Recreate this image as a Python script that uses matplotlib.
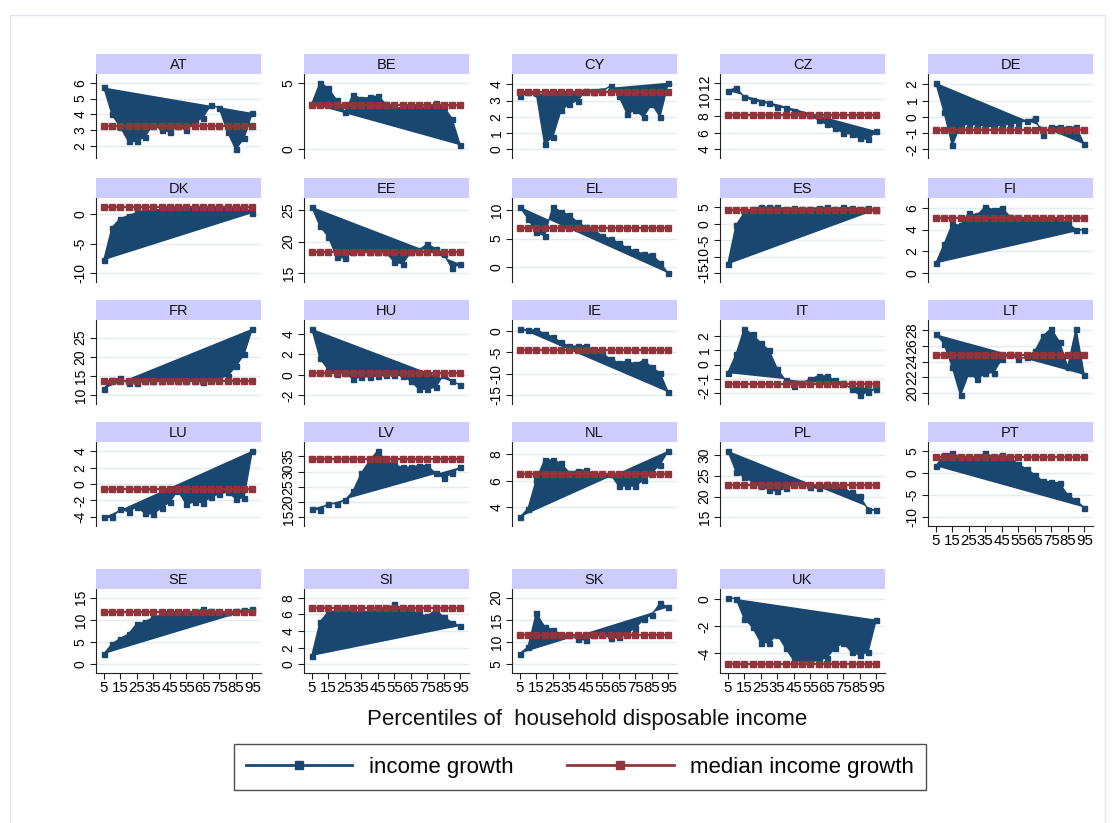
import matplotlib
matplotlib.use('Agg')
import matplotlib.pyplot as plt
from matplotlib.lines import Line2D
from matplotlib.patches import Rectangle

plt.rcParams['font.family'] = ['Liberation Sans', 'DejaVu Sans']

percentiles = [5, 10, 15, 20, 25, 30, 35, 40, 45, 50, 55, 60, 65, 70, 75, 80, 85, 90, 95]
x_ticks = [5, 15, 25, 35, 45, 55, 65, 75, 85, 95]

countries = ['AT', 'BE', 'CY', 'CZ', 'DE', 'DK', 'EE', 'EL', 'ES', 'FI', 'FR', 'HU',
             'IE', 'IT', 'LT', 'LU', 'LV', 'NL', 'PL', 'PT', 'SE', 'SI', 'SK', 'UK']

AT = [5.7, 4.0, 3.2, 2.3, 2.3, 2.6, 3.4, 3.0, 2.9, 3.3, 3.0, 3.5, 3.8, 4.6, 4.4, 2.9, 1.8, 2.5, 4.1]
BE = [3.4, 5.0, 4.6, 3.7, 2.8, 4.1, 3.8, 3.9, 4.0, 3.4, 3.0, 3.2, 3.2, 3.3, 3.0, 3.5, 3.2, 2.3, 0.3]
CY = [3.3, 3.55, 3.45, 0.35, 0.75, 2.4, 2.8, 3.0, 3.6, 3.55, 3.6, 3.9, 3.3, 2.2, 2.4, 2.0, 2.8, 2.0, 4.1]
CZ = [11.0, 11.4, 10.3, 9.9, 9.7, 9.5, 9.1, 9.0, 8.6, 8.2, 8.1, 7.5, 7.0, 6.5, 6.0, 5.8, 5.3, 5.2, 6.2]
DE = [2.1, 0.3, -1.75, -0.5, -0.45, -0.5, -0.55, -0.6, -0.5, -0.45, -0.35, -0.25, -0.1, -1.1, -0.6, -0.6, -0.7, -0.6, -1.7]
DK = [-7.8, -2.3, -0.8, -0.3, 0.2, 0.6, 0.5, 0.8, 0.9, 1.0, 1.0, 1.1, 1.0, 1.1, 1.1, 1.0, 1.0, 1.1, 0.1]
EE = [25.5, 22.4, 20.8, 17.6, 17.4, 18.4, 18.5, 18.4, 18.3, 18.3, 16.8, 16.5, 18.3, 18.7, 19.6, 18.9, 18.0, 15.8, 16.5]
EL = [10.6, 8.5, 6.1, 5.5, 10.6, 9.7, 9.1, 7.9, 7.0, 6.4, 5.5, 4.9, 4.3, 3.3, 2.8, 2.3, 2.2, 0.8, -1.1]
ES = [-12.3, -0.4, 3.3, 4.5, 5.2, 5.0, 5.1, 4.6, 4.8, 4.5, 4.6, 4.9, 5.0, 4.5, 5.0, 4.8, 4.5, 4.8, 4.2]
FI = [0.9, 2.65, 4.5, 4.4, 5.5, 5.3, 6.1, 5.8, 6.0, 5.2, 5.1, 5.0, 5.0, 5.0, 4.9, 5.0, 4.6, 4.0, 4.0]
FR = [11.7, 14.1, 14.4, 13.1, 13.3, 13.7, 13.8, 13.8, 13.9, 13.8, 13.7, 13.8, 13.5, 13.9, 14.5, 15.0, 17.5, 20.6, 27.3]
HU = [4.5, 1.6, 0.5, 0.1, 0.2, -0.4, -0.2, -0.2, -0.1, 0.0, 0.0, -0.1, -0.6, -1.4, -1.4, -1.2, 0.0, -0.6, -1.0]
IE = [0.55, 0.2, 0.3, -0.6, -1.4, -2.6, -3.6, -3.5, -3.4, -4.5, -5.3, -6.5, -7.4, -7.1, -7.7, -6.9, -8.4, -9.8, -14.3]
IT = [-0.6, 0.7, 2.5, 2.1, 1.5, 1.0, -0.3, -1.1, -1.5, -1.3, -1.0, -0.8, -0.8, -1.1, -1.3, -1.7, -2.15, -1.9, -1.7]
LT = [27.5, 26.3, 23.3, 19.7, 22.5, 21.8, 22.5, 22.6, 24.3, 25.0, 24.3, 24.6, 25.3, 27.3, 28.2, 26.5, 23.3, 28.2, 22.3]
LU = [-4.1, -4.1, -3.1, -3.4, -2.8, -3.6, -3.7, -2.9, -2.2, -0.8, -2.5, -2.2, -2.3, -1.6, -1.2, -1.0, -1.8, -1.7, 4.1]
LV = [17.8, 17.5, 19.5, 19.5, 20.6, 23.5, 29.5, 33.5, 36.9, 33.5, 32.3, 31.4, 31.5, 32.0, 32.0, 29.5, 27.9, 29.5, 31.5]
NL = [3.25, 3.9, 6.05, 7.55, 7.55, 7.3, 6.6, 6.75, 6.8, 6.5, 6.5, 6.5, 5.6, 5.6, 5.6, 6.05, 6.6, 7.2, 8.25]
PL = [31.0, 26.0, 24.6, 23.5, 22.5, 21.6, 21.3, 22.0, 23.0, 23.0, 22.2, 22.0, 23.0, 22.5, 22.0, 21.0, 20.2, 16.8, 16.7]
PT = [1.5, 4.0, 4.5, 3.5, 3.0, 3.5, 4.5, 3.5, 4.0, 3.5, 1.9, 0.9, -0.4, -1.9, -2.0, -2.3, -5.0, -6.2, -7.8]
SE = [2.3, 4.6, 5.8, 6.8, 9.1, 9.6, 10.5, 11.2, 11.6, 11.7, 11.8, 11.7, 12.4, 11.9, 11.8, 11.7, 11.9, 12.2, 12.4]
SI = [1.0, 5.1, 6.3, 6.4, 6.6, 6.4, 6.2, 6.4, 6.5, 6.6, 7.2, 6.7, 6.5, 6.0, 5.8, 6.5, 5.7, 5.0, 4.6]
SK = [7.4, 8.9, 16.5, 13.5, 12.8, 11.7, 11.7, 10.6, 10.5, 11.5, 11.8, 10.9, 11.2, 12.2, 13.1, 15.2, 16.1, 18.8, 17.8]
UK = [0.12, 0.05, -1.43, -2.05, -3.2, -3.2, -2.6, -3.6, -4.5, -4.6, -4.6, -4.5, -4.3, -3.6, -3.2, -3.9, -4.1, -3.9, -1.5]

income_growth = [AT, BE, CY, CZ, DE, DK, EE, EL, ES, FI, FR, HU,
                 IE, IT, LT, LU, LV, NL, PL, PT, SE, SI, SK, UK]

median_growth = [3.3, 3.35, 3.5, 8.1, -0.8, 1.2, 18.3, 6.8, 4.2, 5.05, 13.8, 0.2,
                 -4.4, -1.35, 24.9, -0.6, 34.2, 6.5, 22.8, 3.6, 11.8, 6.8, 11.7, -4.8]

y_ticks = [
    [2, 3, 4, 5, 6], [0, 5], [0, 1, 2, 3, 4], [4, 6, 8, 10, 12], [-2, -1, 0, 1, 2],
    [-10, -5, 0], [15, 20, 25], [0, 5, 10], [-15, -10, -5, 0, 5], [0, 2, 4, 6],
    [10, 15, 20, 25], [-2, 0, 2, 4], [-15, -10, -5, 0], [-2, -1, 0, 1, 2], [20, 22, 24, 26, 28],
    [-4, -2, 0, 2, 4], [15, 20, 25, 30, 35], [4, 6, 8], [15, 20, 25, 30], [-10, -5, 0, 5],
    [0, 5, 10, 15], [0, 2, 4, 6, 8], [5, 10, 15, 20], [-4, -2, 0],
]

NAVY = '#1A476F'
MAROON = '#90353B'
STRIP = '#CCCCFF'
GRID = '#E4ECEF'

W, H = 1114, 823
fig = plt.figure(figsize=(W / 100, H / 100), dpi=100)
fig.patch.set_facecolor('white')

# faint outer frame
fig.patches.append(Rectangle((10 / W, -0.01), (1105 - 10) / W, 1 - 15 / H + 0.01,
                             transform=fig.transFigure, fill=False,
                             edgecolor='#E3E8EC', lw=1.0))

col_left = [96, 304, 512, 720, 928]
panel_w = 165
row_strip_top = [54, 178, 300, 422, 569]
strip_h = 20
plot_h = 84


def px_rect(x, y_top, w, h):
    return [x / W, 1 - (y_top + h) / H, w / W, h / H]


for k, c in enumerate(countries):
    r, col = divmod(k, 5)
    x0 = col_left[col]
    st = row_strip_top[r]
    # strip
    sax = fig.add_axes(px_rect(x0, st, panel_w, strip_h))
    sax.set_facecolor(STRIP)
    for s in sax.spines.values():
        s.set_visible(False)
    sax.set_xticks([])
    sax.set_yticks([])
    sax.text(0.5, 0.45, c, ha='center', va='center', fontsize=10.5,
             transform=sax.transAxes, color='#111111')

    ax = fig.add_axes(px_rect(x0, st + strip_h, panel_w, plot_h))
    vals = income_growth[k]
    med = median_growth[k]
    ticks = y_ticks[k]
    ax.fill(percentiles, vals, color=NAVY, lw=0, zorder=2)
    ax.plot(percentiles, vals, color=NAVY, lw=1.0, marker='s', ms=3.6,
            zorder=3)
    ax.plot(percentiles, [med] * len(percentiles), color=MAROON, lw=1.6,
            marker='s', ms=3.8, zorder=4)

    lo = min(min(vals), med, min(ticks))
    hi = max(max(vals), med, max(ticks))
    m = 0.13 * (hi - lo)
    ax.set_ylim(lo - m, hi + m)
    ax.set_xlim(0.3, 100.3)

    ax.set_yticks(ticks)
    ax.set_yticklabels([str(t) for t in ticks], rotation=90, va='center',
                       fontsize=10)
    ax.grid(axis='y', color=GRID, lw=1.0, zorder=0)
    ax.set_axisbelow(True)
    ax.spines['top'].set_visible(False)
    ax.spines['right'].set_visible(False)
    ax.spines['left'].set_color('#222222')
    ax.tick_params(axis='y', length=4, width=0.8, color='#222222', pad=2)

    if k >= 19:
        ax.spines['bottom'].set_color('#222222')
        ax.set_xticks(x_ticks)
        ax.set_xticklabels([str(t) for t in x_ticks], fontsize=10.8)
        ax.tick_params(axis='x', length=4, width=0.8, color='#222222', pad=2)
    else:
        ax.spines['bottom'].set_visible(False)
        ax.set_xticks([])

fig.text(587 / W, 1 - 719 / H, 'Percentiles of  household disposable income',
         ha='center', va='center', fontsize=16, color='#111111')

handles = [
    Line2D([0], [0], color=NAVY, lw=2, marker='s', ms=6),
    Line2D([0], [0], color=MAROON, lw=2, marker='s', ms=6),
]
leg = fig.legend(handles, ['income growth', 'median income growth'],
                 loc='center', bbox_to_anchor=(580 / W, 1 - 767 / H), ncol=2,
                 frameon=True, fancybox=False, edgecolor='#222222',
                 fontsize=16, handlelength=4.8, handletextpad=0.75,
                 columnspacing=2.4, borderpad=0.55, numpoints=1)
leg.get_frame().set_linewidth(1.0)

fig.savefig('out.png', dpi=100, facecolor='white')
